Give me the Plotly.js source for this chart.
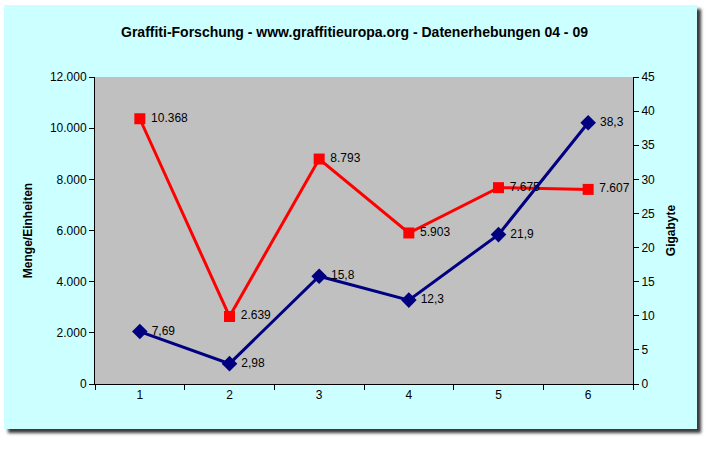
<!DOCTYPE html>
<html>
<head>
<meta charset="utf-8">
<script src="https://cdn.plot.ly/plotly-3.0.1.min.js"></script>
<style>
  html, body { margin: 0; padding: 0; background: #ffffff; }
  #frame { position: absolute; left: 4px; top: 5px; width: 693px; height: 424px;
           background: #CCFFFF; box-shadow: 4px 4px 3px #3a3a3a; }
  #chart { position: absolute; left: 0; top: 0; width: 709px; height: 453px; }
</style>
</head>
<body>
<div id="frame"></div>
<div id="chart"></div>
<script>
const categories = ['1', '2', '3', '4', '5', '6'];
const mengeValues = [10368, 2639, 8793, 5903, 7675, 7607];
const mengeLabels = ['10.368', '2.639', '8.793', '5.903', '7.675', '7.607'];
const gigabyteValues = [7.69, 2.98, 15.8, 12.3, 21.9, 38.3];
const gigabyteLabels = ['7,69', '2,98', '15,8', '12,3', '21,9', '38,3'];
const leftTickVals = [0, 2000, 4000, 6000, 8000, 10000, 12000];
const leftTickText = ['0', '2.000', '4.000', '6.000', '8.000', '10.000', '12.000'];
const rightTickVals = [0, 5, 10, 15, 20, 25, 30, 35, 40, 45];
const categoryBoundaries = [-0.5, 0.5, 1.5, 2.5, 3.5, 4.5, 5.5];

const font = 'Arial, "Liberation Sans", sans-serif';

const traces = [
  {
    x: categories, y: mengeValues, text: mengeLabels, texttemplate: ' %{text}',
    type: 'scatter', mode: 'lines+markers+text', textposition: 'middle right',
    line: { color: '#FF0000', width: 3 },
    marker: { symbol: 'square', size: 11, color: '#FF0000' },
    textfont: { family: font, size: 12, color: '#000000' },
    yaxis: 'y', cliponaxis: false, hoverinfo: 'skip'
  },
  {
    x: categories, y: gigabyteValues, text: gigabyteLabels, texttemplate: ' %{text}',
    type: 'scatter', mode: 'lines+markers+text', textposition: 'middle right',
    line: { color: '#000080', width: 3 },
    marker: { symbol: 'diamond', size: 12, color: '#000080' },
    textfont: { family: font, size: 12, color: '#000000' },
    yaxis: 'y2', cliponaxis: false, hoverinfo: 'skip'
  }
];

const innerTicks = { ticks: 'inside', ticklen: 4, tickcolor: '#000000', showticklabels: false,
                     showgrid: false, zeroline: false, showline: false };

const layout = {
  width: 709, height: 453,
  margin: { l: 95, r: 76, t: 77, b: 69 },
  paper_bgcolor: 'rgba(0,0,0,0)',
  plot_bgcolor: '#C0C0C0',
  showlegend: false,
  font: { family: font, size: 12, color: '#000000' },
  title: {
    text: '<b>Graffiti-Forschung - www.graffitieuropa.org - Datenerhebungen 04 - 09</b>',
    font: { family: font, size: 14, color: '#000000' },
    x: 0.5, xanchor: 'center', y: 1 - 32 / 453, yanchor: 'middle'
  },
  xaxis: {
    type: 'category', tickson: 'boundaries',
    showgrid: false, zeroline: false,
    showline: true, linecolor: '#000000', linewidth: 1,
    ticks: 'outside', ticklen: 5, tickcolor: '#000000',
    tickfont: { family: font, size: 12 },
    range: [-0.5, 5.5], fixedrange: true
  },
  xaxis2: Object.assign({ overlaying: 'x', anchor: 'y', side: 'bottom', range: [-0.5, 5.5],
                          tickmode: 'array', tickvals: categoryBoundaries }, innerTicks),
  yaxis: {
    range: [0, 12000], tickvals: leftTickVals, ticktext: leftTickText,
    showgrid: false, zeroline: false,
    showline: true, linecolor: '#000000', linewidth: 1,
    ticks: 'outside', ticklen: 5, tickcolor: '#000000',
    tickfont: { family: font, size: 12 },
    title: { text: '<b>Menge/Einheiten</b>', font: { family: font, size: 12 }, standoff: 14 }
  },
  yaxis2: {
    range: [0, 45], tickvals: rightTickVals,
    overlaying: 'y', side: 'right',
    showgrid: false, zeroline: false,
    showline: true, linecolor: '#000000', linewidth: 1,
    ticks: 'outside', ticklen: 5, tickcolor: '#000000',
    tickfont: { family: font, size: 12 },
    title: { text: '<b>Gigabyte</b>', font: { family: font, size: 12 }, standoff: 12 }
  },
  yaxis3: Object.assign({ overlaying: 'y', side: 'left', anchor: 'x', range: [0, 12000],
                          tickmode: 'array', tickvals: leftTickVals }, innerTicks),
  yaxis4: Object.assign({ overlaying: 'y', side: 'right', anchor: 'x', range: [0, 45],
                          tickmode: 'array', tickvals: rightTickVals }, innerTicks)
};

Plotly.newPlot('chart', traces, layout, { displayModeBar: false, staticPlot: true });
</script>
</body>
</html>
